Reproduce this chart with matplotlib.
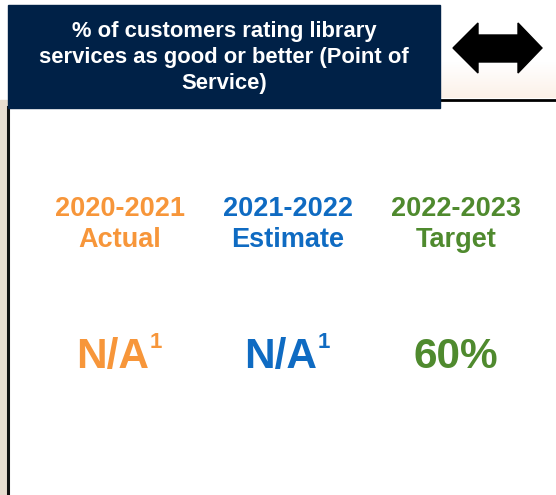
import numpy as np
import matplotlib.pyplot as plt
from matplotlib.patches import Rectangle, Polygon

plt.rcParams['font.family'] = ['Liberation Sans', 'DejaVu Sans']

# chart content
title = "% of customers rating library\nservices as good or better (Point of\nService)"
periods = ["2020-2021", "2021-2022", "2022-2023"]
kinds = ["Actual", "Estimate", "Target"]
values = ["N/A", "N/A", "60%"]
footnotes = ["1", "1", ""]
colors = ["#f7963a", "#0f6bc2", "#4f8a2e"]

W, H = 556, 495
fig = plt.figure(figsize=(W / 100, H / 100), dpi=100)
ax = fig.add_axes([0, 0, 1, 1])
ax.set_xlim(0, W)
ax.set_ylim(H, 0)
ax.axis('off')

# faint beige bits at the edges
grad = np.linspace(0, 1, 50).reshape(-1, 1)
ax.imshow(grad, extent=(440, W, 98, 62), cmap=plt.matplotlib.colors.LinearSegmentedColormap.from_list(
    'b', ['#ffffff', '#fcf1e8']), aspect='auto', zorder=0)
ax.add_patch(Rectangle((0, 100), 7, H - 100, color='#e8ddd0', zorder=0))

# header box
ax.add_patch(Rectangle((8, 5), 432, 103, color='#002147', zorder=2))
ax.text(224, 57.5, title, color='white', fontsize=15.8, fontweight='bold',
        ha='center', va='center', linespacing=1.32, zorder=3)

# frame lines
ax.plot([440, W], [99.5, 99.5], color='black', lw=2, zorder=1)
ax.plot([8, 8], [107, H], color='#111111', lw=2.2, zorder=1)

# double arrow
cx, cy = 497.5, 48
pts = [(453, cy), (478, 23), (478, 35), (518, 35), (518, 23), (542, cy),
       (518, 73), (518, 62), (478, 62), (478, 73)]
ax.add_patch(Polygon(pts, closed=True, color='black', zorder=3))

# columns
xs = 120 + 168 * np.arange(len(periods))
fig.canvas.draw()
renderer = fig.canvas.get_renderer()
for x, per, kind, val, fn, c in zip(xs, periods, kinds, values, footnotes, colors):
    ax.text(x, 208.5, per, color=c, fontsize=19.5, fontweight='bold', ha='center', va='center')
    ax.text(x, 240, kind, color=c, fontsize=19.5, fontweight='bold', ha='center', va='center')
    shift = 7 if fn else 0
    t = ax.text(x - shift, 357, val, color=c, fontsize=30.5, fontweight='bold',
                ha='center', va='center')
    if fn:
        bb = t.get_window_extent(renderer)
        x_right = ax.transData.inverted().transform((bb.x1, bb.y1))[0]
        ax.text(x_right, 343, fn, color=c, fontsize=16, fontweight='bold',
                ha='left', va='center')

fig.savefig('out.png', dpi=100, facecolor='white')
